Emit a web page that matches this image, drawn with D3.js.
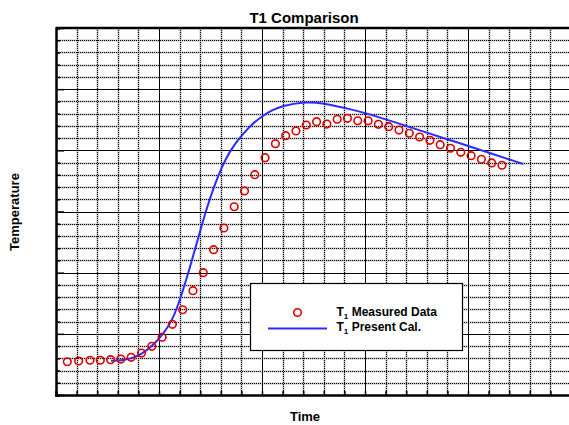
<!DOCTYPE html>
<html>
<head>
<meta charset="utf-8">
<script src="https://cdn.jsdelivr.net/npm/d3@7"></script>
<style>
  body { margin: 0; background: #fff; }
  svg { display: block; font-family: Arial, "Liberation Sans", sans-serif; }
</style>
</head>
<body>
<div id="chart"></div>
<script>
// measured T1 (circles)
const measTime = [5.5, 11, 16.5, 21.5, 26.5, 31.5, 36.5, 41.5, 46.5, 51.5, 56.5, 61.5, 66.5, 71.5, 76.5,
  81.5, 86.5, 91.5, 96.5, 101.5, 106.5, 111.5, 116.5, 121.5, 126.5, 131.5, 136.5, 141.5, 146.5, 151.5,
  156.5, 161.5, 166.5, 171.5, 176.5, 181.5, 186.5, 191.5, 196.5, 201.5, 206.5, 211.5, 216.5];
const measTemp = [27.2, 27.8, 28.4, 28.4, 28.9, 29.4, 30.8, 34.3, 39.8, 47.2, 57.8, 69.7, 85.3, 100, 118.8,
  136.5, 153.9, 166.8, 180.1, 194, 205.4, 212, 215.8, 220.7, 223.4, 221.5, 225.4, 226.2, 224.2, 224.2,
  221.3, 219.3, 216.6, 213.9, 210.9, 208.2, 204.6, 201.7, 198.4, 195.6, 192.7, 189.7, 187.8];

// present calculation (line)
const calcTime = [26.7, 31.7, 36.7, 41.7, 46.9, 51.8, 56.7, 60.7, 64.7, 68.8, 72.8, 76.7, 80.6, 84.5, 87.9,
  90.9, 95.1, 100.6, 105, 110.3, 120, 126.6, 131.4, 141.1, 150.8, 163.7, 180, 196.1, 212.3, 226.8];
const calcTemp = [28, 28.2, 29.8, 33.6, 40.4, 49.2, 61.5, 80.4, 102.4, 127, 151, 170.5, 187, 199.5, 207.5,
  213.5, 221.5, 228.5, 233, 236.5, 239.5, 238.9, 238, 234.4, 230.3, 223.4, 214.4, 205.8, 196.8, 188.8];

const xMajor = [0, 50, 100, 150, 200, 250];
const yMajor = [0, 50, 100, 150, 200, 250, 300];

const width = 569, height = 425;
const margin = { top: 28, right: -2, bottom: 30, left: 56 };

const svg = d3.select('#chart').append('svg')
  .attr('width', width)
  .attr('height', height);

const x = d3.scaleLinear().domain([0, 250]).range([margin.left, width - margin.right]);
const y = d3.scaleLinear().domain([0, 300]).range([height - margin.bottom, margin.top]);

const xMinor = d3.range(0, 251, 10).filter(v => !xMajor.includes(v));
const yMinor = d3.range(0, 301, 10).filter(v => !yMajor.includes(v));

const grid = svg.append('g');
const px = v => Math.round(v) + 0.5;

// minor grid - gray band with black dots
[['#c4c4c4', 2, null], ['#000', 1, '1,1']].forEach(([col, w, dash]) => {
  grid.append('g').selectAll('line').data(xMinor).join('line')
    .attr('x1', d => px(x(d))).attr('x2', d => px(x(d)))
    .attr('y1', y(300)).attr('y2', y(0))
    .attr('stroke', col).attr('stroke-width', w).attr('stroke-dasharray', dash);
  grid.append('g').selectAll('line').data(yMinor).join('line')
    .attr('y1', d => px(y(d))).attr('y2', d => px(y(d)))
    .attr('x1', x(0)).attr('x2', x(250))
    .attr('stroke', col).attr('stroke-width', w).attr('stroke-dasharray', dash);
});

// major grid - solid
grid.selectAll('.vmaj').data(xMajor).join('line')
  .attr('x1', d => px(x(d))).attr('x2', d => px(x(d)))
  .attr('y1', y(300)).attr('y2', y(0))
  .attr('stroke', '#000');
grid.selectAll('.hmaj').data(yMajor).join('line')
  .attr('y1', d => px(y(d))).attr('y2', d => px(y(d)))
  .attr('x1', x(0)).attr('x2', x(250))
  .attr('stroke', '#000');

// axes with inward ticks, no labels
const axL = svg.append('g').attr('transform', `translate(${x(0)},0)`)
  .call(d3.axisLeft(y).tickValues(d3.range(0, 301, 10)).tickSize(-4).tickFormat(''));
const axB = svg.append('g').attr('transform', `translate(0,${y(0)})`)
  .call(d3.axisBottom(x).tickValues(d3.range(0, 251, 10)).tickSize(-4).tickFormat(''));
[axL, axB].forEach(a => {
  a.select('.domain').attr('stroke-width', 2.5);
  a.selectAll('.tick line').attr('stroke-width', 1.5);
});
axL.selectAll('.tick line').filter(d => d % 50 === 0).attr('x2', 8);
// top frame
svg.append('line')
  .attr('x1', x(0)).attr('x2', width).attr('y1', y(300)).attr('y2', y(300))
  .attr('stroke', '#000').attr('stroke-width', 2.5);

// calculated line
const line = d3.line().x((d, i) => x(calcTime[i])).y(d => y(d)).curve(d3.curveBasis);
svg.append('path')
  .attr('d', line(calcTemp))
  .attr('fill', 'none').attr('stroke', '#2b2bff').attr('stroke-width', 2);

// measured circles
svg.append('g').selectAll('circle').data(measTemp).join('circle')
  .attr('cx', (d, i) => x(measTime[i]))
  .attr('cy', d => y(d))
  .attr('r', 3.8)
  .attr('fill', 'none').attr('stroke', '#dd0000').attr('stroke-width', 1.6);

// title + axis labels
svg.append('text').attr('x', 304).attr('y', 23).attr('text-anchor', 'middle')
  .attr('font-size', 15).attr('font-weight', 'bold').text('T1 Comparison');
svg.append('text').attr('x', 305).attr('y', 421).attr('text-anchor', 'middle')
  .attr('font-size', 13).attr('font-weight', 'bold').text('Time');
svg.append('text').attr('transform', 'translate(19,212) rotate(-90)').attr('text-anchor', 'middle')
  .attr('font-size', 13).attr('font-weight', 'bold').text('Temperature');

// legend
const lg = svg.append('g');
lg.append('rect').attr('x', 250.5).attr('y', 283.5).attr('width', 212).attr('height', 67)
  .attr('fill', '#fff').attr('stroke', '#000').attr('stroke-width', 1.2);
lg.append('circle').attr('cx', 297.5).attr('cy', 312.5).attr('r', 3.8)
  .attr('fill', 'none').attr('stroke', '#dd0000').attr('stroke-width', 1.6);
lg.append('line').attr('x1', 268).attr('x2', 327).attr('y1', 328.5).attr('y2', 328.5)
  .attr('stroke', '#2b2bff').attr('stroke-width', 2);
const legendLabels = [['Measured Data', 316], ['Present Cal.', 331]];
legendLabels.forEach(([lbl, yy]) => {
  const t = lg.append('text').attr('x', 336.5).attr('y', yy)
    .attr('font-size', 12).attr('font-weight', 'bold');
  t.append('tspan').text('T');
  t.append('tspan').attr('font-size', 8).attr('dy', 3).text('1');
  t.append('tspan').attr('dy', -3).text(' ' + lbl);
});
</script>
</body>
</html>
